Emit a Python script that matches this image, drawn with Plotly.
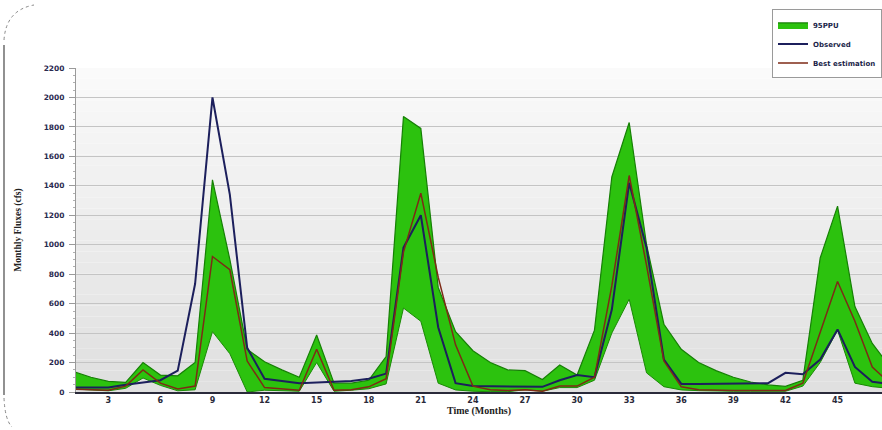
import plotly.graph_objects as go

months = list(range(1, 49))

observed = [30, 30, 30, 50, 65, 80, 145, 735, 2000, 1340, 300, 90,
            75, 60, 65, 70, 75, 90, 125, 980, 1200, 440, 60, 40,
            40, 40, 40, 35, 80, 115, 100, 560, 1420, 980, 220, 55,
            55, 55, 55, 55, 60, 130, 120, 220, 425, 170, 70, 55]

best_estimation = [20, 15, 12, 40, 150, 60, 20, 40, 920, 830, 210, 30,
                   20, 12, 290, 12, 15, 35, 90, 950, 1350, 780, 320, 40,
                   15, 10, 15, 5, 40, 40, 100, 720, 1470, 860, 210, 35,
                   15, 10, 10, 10, 10, 10, 60, 400, 750, 480, 170, 60]

ppu_upper = [138, 100, 72, 65, 200, 115, 110, 200, 1440, 900, 290, 205,
             150, 100, 387, 60, 60, 80, 240, 1870, 1790, 710, 410, 280,
             200, 150, 145, 85, 183, 115, 420, 1460, 1830, 1000, 460, 290,
             200, 145, 100, 68, 48, 38, 80, 910, 1262, 580, 330, 175]

ppu_lower = [20, 12, 8, 25, 95, 45, 8, 15, 410, 260, 0, 12,
             8, 5, 200, 5, 12, 22, 55, 570, 480, 60, 14, 5,
             2, 2, 15, 5, 30, 30, 80, 400, 630, 130, 36, 14,
             9, 5, 5, 5, 5, 5, 40, 200, 420, 60, 36, 25]

x_ticks = [3, 6, 9, 12, 15, 18, 21, 24, 27, 30, 33, 36, 39, 42, 45, 48]
y_ticks = [0, 200, 400, 600, 800, 1000, 1200, 1400, 1600, 1800, 2000, 2200]

fig = go.Figure()

fig.add_trace(go.Scatter(x=months, y=ppu_lower, mode="lines",
                         line=dict(color="#1a8a05", width=1),
                         showlegend=False, hoverinfo="skip"))
fig.add_trace(go.Scatter(x=months, y=ppu_upper, mode="lines", fill="tonexty",
                         fillcolor="#2cc20e", line=dict(color="#168005", width=1.2),
                         name="<b>95PPU</b>"))
fig.add_trace(go.Scatter(x=months, y=observed, mode="lines",
                         line=dict(color="#1c1f5c", width=2),
                         name="<b>Observed</b>"))
fig.add_trace(go.Scatter(x=months, y=best_estimation, mode="lines",
                         line=dict(color="#7e2a16", width=1.5),
                         name="<b>Best estimation</b>"))

# soft vertical gradient in the plot background
shapes = []
n = 30
for i in range(n):
    t = i / (n - 1)
    g = int(250 - 26 * (1 - t))
    shapes.append(dict(type="rect", xref="x domain", yref="y domain",
                       x0=0, x1=1, y0=i / n, y1=(i + 1) / n,
                       fillcolor=f"rgb({g},{g},{g})", line=dict(width=0),
                       layer="below"))
# frame on the left edge of the picture (paper coords: plot area spans x 76..882, y 68..392)
def px(xp):
    return (xp - 76) / 806.0
def py(yp):
    return (392 - yp) / 324.0
shapes.append(dict(type="line", xref="paper", yref="paper",
                   x0=px(4), x1=px(4), y0=py(395), y1=py(45),
                   line=dict(color="#555555", width=1.3)))
shapes.append(dict(type="path", xref="paper", yref="paper",
                   path=f"M {px(4)} {py(40)} Q {px(6)} {py(10)} {px(34)} {py(5)}",
                   line=dict(color="#888888", width=1, dash="dot")))
shapes.append(dict(type="path", xref="paper", yref="paper",
                   path=f"M {px(4)} {py(398)} Q {px(5)} {py(420)} {px(12)} {py(427)}",
                   line=dict(color="#888888", width=1, dash="dot")))

fig.update_layout(
    width=882, height=430,
    margin=dict(l=76, r=0, t=68, b=38, autoexpand=False),
    paper_bgcolor="white", plot_bgcolor="white",
    shapes=shapes,
    showlegend=True,
    legend=dict(x=1.0, xanchor="right", y=0.978, yanchor="top", yref="container",
                bgcolor="white", bordercolor="#9a9a9a", borderwidth=1,
                font=dict(family="DejaVu Sans", size=7, color="#1c1f4a"),
                tracegroupgap=0, itemwidth=30, traceorder="normal"),
    font=dict(family="DejaVu Sans", size=8, color="#2a2a50"),
)

fig.update_xaxes(range=[1.14, 47.56], tickvals=x_ticks,
                 ticktext=[f"<b>{v}</b>" for v in x_ticks],
                 tickfont=dict(size=8, color="#2a2a3a"),
                 showgrid=False, zeroline=False, automargin=False,
                 showline=True, linecolor="#2a2a3a", linewidth=1.5,
                 ticks="", title=dict(text="<b>Time (Months)</b>",
                                      font=dict(family="Liberation Serif", size=10, color="#222222"),
                                      standoff=0))

fig.update_yaxes(range=[0, 2200], tickvals=y_ticks,
                 ticktext=[f"<b>{v}</b>" for v in y_ticks],
                 tickfont=dict(size=7.5, color="#2a2a50"),
                 showgrid=True, gridcolor="#c4c4c4", gridwidth=1, automargin=False,
                 zeroline=False, showline=True, linecolor="#9a9a9a", linewidth=1,
                 ticks="outside", ticklen=6, tickcolor="#9a9a9a", ticklabelstandoff=3,
                 minor=dict(ticks="outside", ticklen=2, dtick=50, tickcolor="#b0b0b0", showgrid=False),
                 title=dict(text="<b>Monthly Fluxes (cfs)</b>",
                            font=dict(family="Liberation Serif", size=9.5, color="#222222"),
                            standoff=20))

fig.write_html("out.html", config={"displayModeBar": False},
               post_script="document.body.style.margin='0';document.body.style.overflow='hidden';")
